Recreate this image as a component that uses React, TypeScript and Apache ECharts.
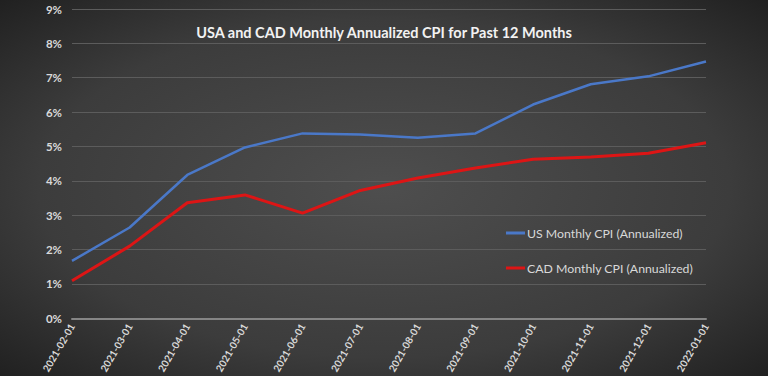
import React, { useEffect, useRef } from "react";
import * as echarts from "echarts";

const months = [
  "2021-02-01", "2021-03-01", "2021-04-01", "2021-05-01", "2021-06-01", "2021-07-01",
  "2021-08-01", "2021-09-01", "2021-10-01", "2021-11-01", "2021-12-01", "2022-01-01",
];
const usCpi = [1.67, 2.64, 4.17, 4.97, 5.38, 5.35, 5.25, 5.38, 6.22, 6.81, 7.04, 7.47];
const cadCpi = [1.09, 2.1, 3.36, 3.59, 3.06, 3.72, 4.08, 4.37, 4.63, 4.69, 4.8, 5.11];
const yTicks = [0, 1, 2, 3, 4, 5, 6, 7, 8, 9];

const title = "USA and CAD Monthly Annualized CPI for Past 12 Months";
const usName = "US Monthly CPI (Annualized)";
const cadName = "CAD Monthly CPI (Annualized)";

export default function App() {
  const ref = useRef<HTMLDivElement>(null);
  useEffect(() => {
    if (!ref.current) return;
    const chart = echarts.init(ref.current, undefined, { renderer: "svg" });
    chart.setOption({
      animation: false,
      backgroundColor: {
        type: "radial",
        x: 0.5,
        y: 0.5,
        r: 0.75,
        colorStops: [
          { offset: 0, color: "#4e4e4e" },
          { offset: 0.6, color: "#3c3c3c" },
          { offset: 1, color: "#1c1c1c" },
        ],
      },
      title: {
        text: title,
        left: "center",
        top: 20,
        textStyle: {
          fontFamily: "Lato",
          fontWeight: "bold",
          fontSize: 14.5,
          color: "#f2f2f2",
        },
      },
      legend: {
        orient: "vertical",
        left: 501,
        top: 222,
        itemGap: 23,
        itemWidth: 19,
        itemHeight: 3,
        icon: "rect",
        textStyle: { fontFamily: "Lato", fontSize: 12.3, color: "#d9d9d9", padding: [0, 0, 0, -3] },
        data: [usName, cadName],
      },
      grid: { left: 72, right: 62, top: 9, bottom: 54, containLabel: false },
      xAxis: {
        type: "category",
        data: months,
        boundaryGap: false,
        axisLine: { show: true, lineStyle: { color: "#858585", width: 2 } },
        axisTick: { show: false },
        axisLabel: {
          rotate: 60,
          interval: 0,
          margin: 6,
          fontFamily: "Lato",
          fontWeight: "bold",
          fontSize: 10,
          color: "#d9d9d9",
        },
        splitLine: { show: false },
      },
      yAxis: {
        type: "value",
        min: yTicks[0],
        max: yTicks[yTicks.length - 1],
        interval: 1,
        axisLine: { show: false },
        axisTick: { show: false },
        axisLabel: {
          formatter: (v: number) => `${v}%`,
          margin: 10,
          fontFamily: "Lato",
          fontWeight: "bold",
          fontSize: 11.5,
          color: "#d9d9d9",
        },
        splitLine: { lineStyle: { color: "#5c5c5c", width: 1 } },
      },
      series: [
        {
          name: usName,
          type: "line",
          data: usCpi,
          showSymbol: false,
          symbol: "none",
          lineStyle: { color: "#4a78c8", width: 2.5 },
          itemStyle: { color: "#4a78c8" },
        },
        {
          name: cadName,
          type: "line",
          data: cadCpi,
          showSymbol: false,
          symbol: "none",
          lineStyle: { color: "#dd1515", width: 3 },
          itemStyle: { color: "#dd1515" },
        },
      ],
    });
    return () => chart.dispose();
  }, []);
  return (
    <div
      ref={ref}
      style={{ position: "absolute", left: 0, top: 0, width: 768, height: 376 }}
    />
  );
}
